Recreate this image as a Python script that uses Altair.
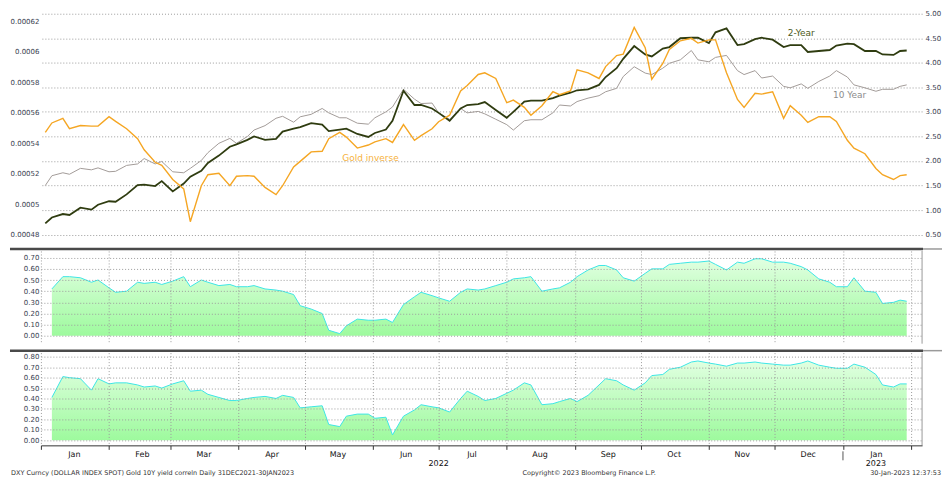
import altair as alt
import pandas as pd

# ---------------- data ----------------
# time axis: every third business day from 3 Jan 2022, plus the last day (30 Jan 2023)
bdays = pd.bdate_range("2022-01-03", "2023-01-30")
dates = list(bdays[::3]) + [bdays[-1]]

gold_inverse = [
    5.471e-4, 5.533e-4, 5.563e-4, 5.495e-4, 5.516e-4, 5.512e-4, 5.512e-4, 5.574e-4, 5.543e-4, 5.495e-4,
    5.430e-4, 5.357e-4, 5.275e-4, 5.255e-4, 5.162e-4, 5.100e-4, 4.885e-4, 5.121e-4, 5.193e-4, 5.203e-4,
    5.121e-4, 5.183e-4, 5.187e-4, 5.183e-4, 5.110e-4, 5.063e-4, 5.121e-4, 5.244e-4, 5.281e-4, 5.343e-4,
    5.347e-4, 5.430e-4, 5.471e-4, 5.440e-4, 5.368e-4, 5.388e-4, 5.409e-4, 5.430e-4, 5.405e-4, 5.522e-4,
    5.419e-4, 5.450e-4, 5.495e-4, 5.541e-4, 5.584e-4, 5.743e-4, 5.779e-4, 5.851e-4, 5.862e-4, 5.825e-4,
    5.666e-4, 5.683e-4, 5.635e-4, 5.584e-4, 5.646e-4, 5.738e-4, 5.718e-4, 5.743e-4, 5.882e-4, 5.862e-4,
    5.825e-4, 5.903e-4, 5.975e-4, 5.985e-4, 6.160e-4, 6.027e-4, 5.820e-4, 5.923e-4, 6.016e-4, 6.072e-4,
    6.088e-4, 6.057e-4, 6.078e-4, 6.078e-4, 5.862e-4, 5.687e-4, 5.635e-4, 5.728e-4, 5.722e-4, 5.738e-4,
    5.563e-4, 5.646e-4, 5.584e-4, 5.536e-4, 5.574e-4, 5.574e-4, 5.543e-4, 5.419e-4, 5.368e-4, 5.331e-4,
    5.234e-4, 5.193e-4, 5.162e-4, 5.187e-4, 5.193e-4,
]

yield_2y = [
    0.73, 0.85, 0.92, 0.90, 1.05, 1.01, 1.11, 1.18, 1.17, 1.32,
    1.51, 1.52, 1.49, 1.59, 1.38, 1.54, 1.68, 1.80, 1.96, 2.11,
    2.29, 2.34, 2.43, 2.50, 2.43, 2.45, 2.60, 2.66, 2.69, 2.77,
    2.74, 2.61, 2.64, 2.66, 2.55, 2.49, 2.57, 2.64, 2.82, 3.43,
    3.14, 3.14, 3.07, 2.98, 2.82, 3.07, 3.14, 3.16, 3.20, 3.04,
    2.88, 3.00, 3.21, 3.23, 3.23, 3.28, 3.33, 3.39, 3.44, 3.46,
    3.55, 3.71, 3.89, 4.08, 4.34, 4.17, 4.13, 4.29, 4.32, 4.50,
    4.51, 4.51, 4.40, 4.62, 4.70, 4.36, 4.38, 4.48, 4.51, 4.47,
    4.32, 4.36, 4.36, 4.22, 4.24, 4.26, 4.35, 4.39, 4.38, 4.24,
    4.24, 4.17, 4.16, 4.24, 4.25,
]

yield_10y = [
    1.50, 1.70, 1.76, 1.73, 1.85, 1.82, 1.86, 1.78, 1.79, 1.91,
    1.94, 2.05, 1.94, 1.99, 1.78, 1.76, 1.85, 2.01, 2.17, 2.36,
    2.46, 2.36, 2.50, 2.63, 2.72, 2.87, 2.91, 2.79, 2.90, 2.95,
    3.07, 2.98, 2.88, 2.88, 2.77, 2.75, 2.88, 3.00, 3.10, 3.46,
    3.26, 3.17, 3.18, 2.98, 2.85, 3.07, 2.98, 3.01, 2.96, 2.85,
    2.74, 2.63, 2.82, 2.84, 2.84, 2.98, 3.14, 3.12, 3.21, 3.28,
    3.33, 3.41, 3.48, 3.72, 3.92, 3.79, 3.76, 3.89, 3.99, 4.06,
    4.25, 4.06, 4.02, 4.11, 4.15, 3.84, 3.76, 3.84, 3.69, 3.73,
    3.52, 3.49, 3.57, 3.48, 3.62, 3.73, 3.84, 3.71, 3.55, 3.49,
    3.42, 3.46, 3.46, 3.52, 3.55,
]

correl_1 = [
    None, 0.42, 0.53, 0.53, 0.52, 0.48, 0.50, 0.43, 0.39, 0.40,
    0.48, 0.47, 0.48, 0.46, 0.49, 0.53, 0.44, 0.50, 0.48, 0.45,
    0.46, 0.44, 0.44, 0.45, 0.42, 0.41, 0.40, 0.37, 0.27, 0.24,
    0.20, 0.05, 0.02, 0.09, 0.15, 0.14, 0.14, 0.15, 0.12, 0.28,
    0.35, 0.39, 0.36, 0.34, 0.31, 0.39, 0.42, 0.41, 0.42, 0.45,
    0.48, 0.51, 0.52, 0.53, 0.40, 0.42, 0.43, 0.48, 0.53, 0.59,
    0.63, 0.63, 0.59, 0.52, 0.49, 0.56, 0.60, 0.60, 0.64, 0.65,
    0.66, 0.66, 0.67, 0.64, 0.59, 0.66, 0.65, 0.69, 0.69, 0.66,
    0.66, 0.65, 0.62, 0.59, 0.51, 0.48, 0.44, 0.44, 0.52, 0.40,
    0.39, 0.29, 0.30, 0.32, 0.31,
]

correl_2 = [
    None, 0.41, 0.61, 0.60, 0.59, 0.48, 0.59, 0.54, 0.55, 0.55,
    0.53, 0.51, 0.52, 0.50, 0.54, 0.57, 0.47, 0.48, 0.44, 0.41,
    0.38, 0.38, 0.40, 0.41, 0.42, 0.40, 0.43, 0.41, 0.31, 0.32,
    0.33, 0.15, 0.13, 0.23, 0.25, 0.25, 0.21, 0.22, 0.05, 0.23,
    0.29, 0.34, 0.32, 0.31, 0.27, 0.40, 0.47, 0.42, 0.38, 0.40,
    0.45, 0.48, 0.55, 0.53, 0.34, 0.35, 0.37, 0.40, 0.37, 0.43,
    0.53, 0.59, 0.57, 0.53, 0.48, 0.55, 0.62, 0.63, 0.68, 0.70,
    0.75, 0.76, 0.74, 0.73, 0.71, 0.74, 0.74, 0.75, 0.74, 0.73,
    0.72, 0.72, 0.74, 0.76, 0.72, 0.70, 0.69, 0.69, 0.73, 0.70,
    0.63, 0.53, 0.51, 0.54, 0.54,
]

gold_ticks = [0.00048, 0.0005, 0.00052, 0.00054, 0.00056, 0.00058, 0.0006, 0.00062]
yield_ticks = [0.5, 1.0, 1.5, 2.0, 2.5, 3.0, 3.5, 4.0, 4.5, 5.0]
corr1_ticks = [0.0, 0.1, 0.2, 0.3, 0.4, 0.5, 0.6, 0.7]
corr2_ticks = [0.0, 0.1, 0.2, 0.3, 0.4, 0.5, 0.6, 0.7, 0.8]

label_dates = ["2022-12-13", "2023-01-04", "2022-05-31"]
label_values = [4.60, 3.335, 2.07]
label_texts = ["2-Year", "10 Year", "Gold inverse"]
label_colors = ["#4d5a22", "#8c8c8c", "#f6b240"]

year_dates = ["2022-07-01", "2023-01-16"]
year_texts = ["2022", "2023"]
year_break = ["2023-01-01"]

FOOTER_LEFT = "DXY Curncy (DOLLAR INDEX SPOT) Gold 10Y yield correln  Daily 31DEC2021-30JAN2023"
FOOTER_MID = "Copyright\u00a9 2023 Bloomberg Finance L.P."
FOOTER_RIGHT = "30-Jan-2023 12:37:53"

df = pd.DataFrame({"date": dates, "gold": gold_inverse, "y2": yield_2y,
                   "y10": yield_10y, "c1": correl_1, "c2": correl_2})
lab = pd.DataFrame({"date": pd.to_datetime(label_dates), "val": label_values,
                    "text": label_texts, "color": label_colors})
yrs = pd.DataFrame({"date": pd.to_datetime(year_dates), "text": year_texts})
brk = pd.DataFrame({"date": pd.to_datetime(year_break)})
one = pd.DataFrame({"k": [0]})

# ---------------- style ----------------
W, H1, H2, H3 = 884, 234, 93, 93
FONT = "DejaVu Sans"
LBL = "#3b4252"
GRID = "#9c9c9c"
LEFT_EXT = 31

xscale = alt.Scale(domain=[alt.DateTime(year=2022, month=1, date=1),
                           alt.DateTime(year=2023, month=2, date=6)])
month_step = alt.TimeIntervalStep(interval="month", step=1)
X_none = alt.X("date:T", scale=xscale, axis=None)

axis_common = dict(title=None, ticks=False, domain=False, labelFont=FONT,
                   labelFontSize=7, labelColor=LBL)

# ---------------- top panel ----------------
gold_axis = alt.Axis(orient="left", values=gold_ticks, labelExpr="format(datum.value, '.5~f')",
                     grid=False, labelPadding=2, **axis_common)
yld_axis = alt.Axis(orient="right", values=yield_ticks, format=".2f", grid=True, gridColor=GRID,
                    gridDash=[1, 2], labelPadding=3, **axis_common)
yscale = alt.Scale(domain=[0.33, 5.08], nice=False, zero=False)

ten = alt.Chart(df).mark_line(color="#a39c99", strokeWidth=1).encode(
    x=X_none, y=alt.Y("y10:Q", scale=yscale, axis=yld_axis))
two = alt.Chart(df).mark_line(color="#2f3c10", strokeWidth=1.8).encode(
    x=X_none, y=alt.Y("y2:Q", scale=yscale, axis=yld_axis))
txt = alt.Chart(lab).mark_text(font=FONT, fontSize=9, align="center", baseline="middle").encode(
    x=X_none, y=alt.Y("val:Q", scale=yscale, axis=yld_axis), text="text:N",
    color=alt.Color("color:N", scale=None))
gold_line = alt.Chart(df).mark_line(color="#f5a623", strokeWidth=1.4).encode(
    x=X_none,
    y=alt.Y("gold:Q", scale=alt.Scale(domain=[0.00047452, 0.00062758], nice=False, zero=False),
            axis=gold_axis))

top = alt.layer(alt.layer(ten, two, txt), gold_line).resolve_scale(y="independent").properties(
    width=W, height=H1)

# ---------------- correlation panels ----------------
grad = alt.Gradient(gradient="linear",
                    stops=[alt.GradientStop(color="#d4ffd4", offset=0),
                           alt.GradientStop(color="#74f874", offset=1)],
                    x1=0, x2=0, y1=0, y2=1)

xgrid_axis = alt.Axis(title=None, grid=True, gridColor=GRID, gridDash=[1, 2], labels=False,
                      ticks=False, domain=False, tickCount=month_step, zindex=1)
xbottom_axis = alt.Axis(
    title=None, grid=True, gridColor=GRID, gridDash=[1, 2], tickCount=month_step,
    ticks=True, tickSize=4, tickColor="#333333", domain=True, domainColor="#333333",
    labelExpr="(year(datum.value) == 2023 && month(datum.value) == 1) ? '' : timeFormat(datum.value, '%b')",
    labelAlign="center", labelOffset=33, labelFlush=False, labelOverlap=False,
    labelFont=FONT, labelFontSize=8, labelColor="#111111", labelPadding=1, zindex=1)


def corr_panel(field, dom, ticks, h, xaxis):
    area = alt.Chart(df).mark_area(color=grad, line={"color": "#3de6e6", "strokeWidth": 1}).encode(
        x=alt.X("date:T", scale=xscale, axis=xaxis),
        y=alt.Y(f"{field}:Q", scale=alt.Scale(domain=dom, nice=False, zero=False),
                axis=alt.Axis(values=ticks, format=".2f", grid=True, gridColor=GRID,
                              gridDash=[1, 2], labelPadding=2, zindex=1, **axis_common)),
        y2=alt.datum(0))
    sep = alt.Chart(one).mark_rule(color="#4a4a4a", strokeWidth=2.5).encode(
        x=alt.value(-LEFT_EXT), x2=alt.value(W + 1), y=alt.value(-2))
    sep_r = alt.Chart(one).mark_rule(color="#9a9a9a", strokeWidth=1.5).encode(
        x=alt.value(W + 1), x2=alt.value(W + 20), y=alt.value(-2))
    border = alt.Chart(one).mark_rule(color="#9a9a9a", strokeWidth=1).encode(
        x=alt.value(W), y=alt.value(0), y2=alt.value(h))
    return [area, sep, sep_r, border]


mid = alt.layer(*corr_panel("c1", [-0.07, 0.76], corr1_ticks, H2, xgrid_axis)).properties(
    width=W, height=H2)

yr_text = alt.Chart(yrs).mark_text(font=FONT, fontSize=8, color="#111111", baseline="middle").encode(
    x=alt.X("date:T", scale=xscale, axis=xbottom_axis), y=alt.value(H3 + 19), text="text:N")
yr_mark = alt.Chart(brk).mark_rule(color="#555555").encode(
    x=alt.X("date:T", scale=xscale, axis=xbottom_axis), y=alt.value(H3 + 6), y2=alt.value(H3 + 15))
foot_l = alt.Chart(one).mark_text(font=FONT, fontSize=6.5, color="#333333", align="left",
                                  baseline="middle").encode(
    x=alt.value(-LEFT_EXT + 1), y=alt.value(H3 + 28), text=alt.value(FOOTER_LEFT))
foot_m = alt.Chart(one).mark_text(font=FONT, fontSize=6.5, color="#333333", align="center",
                                  baseline="middle").encode(
    x=alt.value(550), y=alt.value(H3 + 28), text=alt.value(FOOTER_MID))
foot_r = alt.Chart(one).mark_text(font=FONT, fontSize=6.5, color="#333333", align="right",
                                  baseline="middle").encode(
    x=alt.value(W + 19), y=alt.value(H3 + 28), text=alt.value(FOOTER_RIGHT))

bot = alt.layer(*corr_panel("c2", [-0.05, 0.84], corr2_ticks, H3, xbottom_axis),
                yr_text, yr_mark, foot_l, foot_m, foot_r).properties(width=W, height=H3)

chart = alt.vconcat(top, mid, bot, spacing=4).properties(
    padding={"left": 0, "right": 0, "top": 0, "bottom": 0}, background="white"
).configure_view(stroke=None)

chart.save("out.html", embed_options={"renderer": "svg", "actions": False})
